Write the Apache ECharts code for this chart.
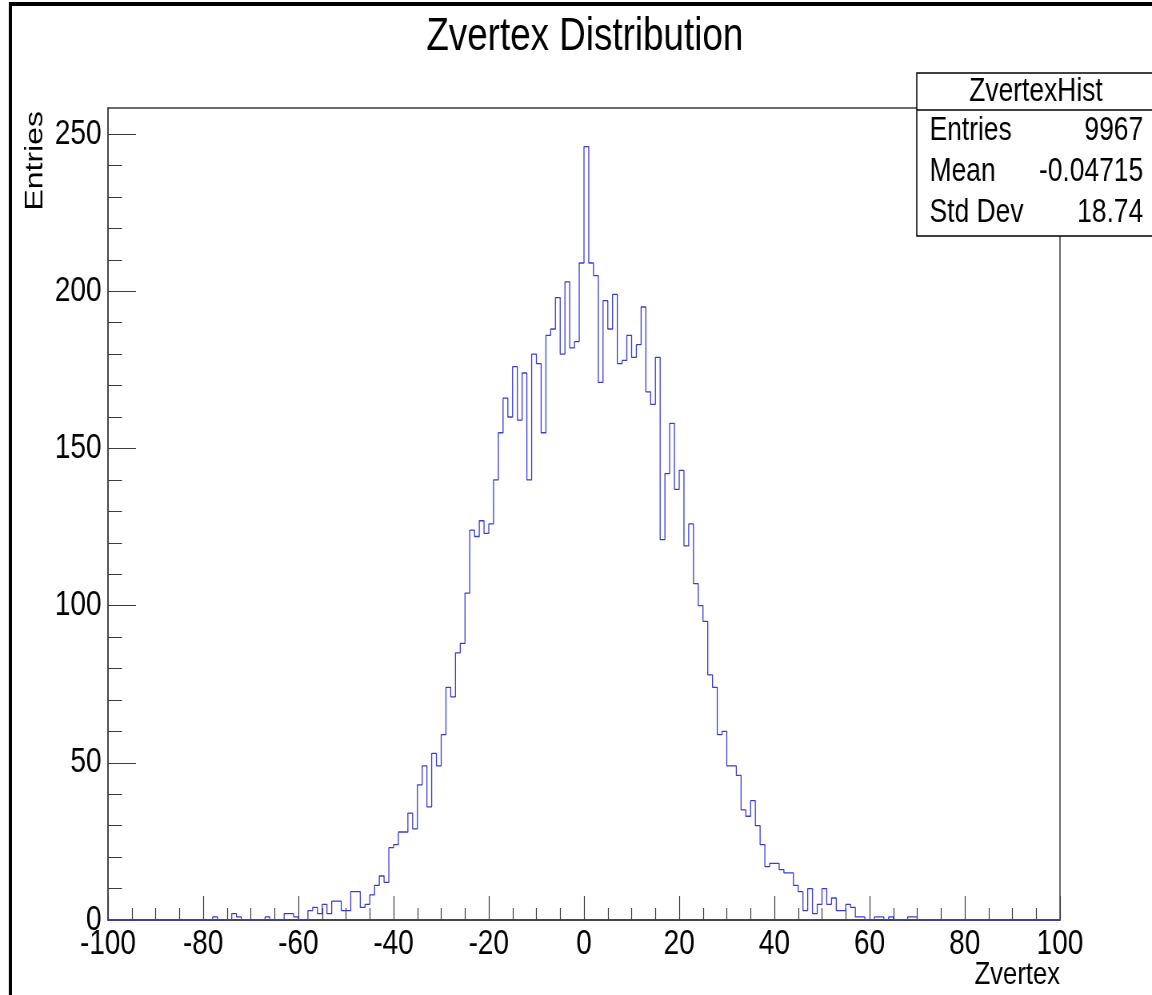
<!DOCTYPE html>
<html>
<head>
<meta charset="utf-8">
<title>Zvertex Distribution</title>
<script src="https://cdn.jsdelivr.net/npm/echarts@6/dist/echarts.min.js"></script>
<style>
  html, body { margin: 0; padding: 0; background: #fff; overflow: hidden; width: 1152px; height: 995px; }
  /* The canvas is laid out wider and squeezed horizontally to give the
     condensed Helvetica look of the text and the thin vertical strokes. */
  #chart { width: 1440px; height: 995px; transform: scaleX(0.8); transform-origin: 0 0; }
</style>
</head>
<body>
<div id="chart"></div>
<script>
// Histogram binning: 200 bins of width 1 from -100 to 100
const BIN_LOW = -100;
const BIN_WIDTH = 1;

// Bin contents, from the bin at -100 up to the bin at 99
const COUNTS = [
  0, 0, 0, 0, 0, 0, 0, 0, 0, 0,          // -100 .. -91
  0, 0, 0, 0, 0, 0, 0, 0, 0, 0,          // -90 .. -81
  0, 0, 1, 0, 0, 0, 2, 1, 0, 0,          // -80 .. -71
  0, 0, 0, 1, 0, 0, 0, 2, 2, 1,          // -70 .. -61
  0, 0, 3, 4, 2, 5, 2, 6, 6, 3,          // -60 .. -51
  3, 9, 9, 4, 5, 8, 11, 14, 12, 23,      // -50 .. -41
  24, 28, 28, 34, 29, 43, 49, 36, 53, 49, // -40 .. -31
  59, 74, 71, 85, 88, 104, 124, 122, 127, 123, // -30 .. -21
  126, 140, 155, 166, 160, 176, 159, 174, 140, 180, // -20 .. -11
  177, 155, 186, 188, 198, 180, 203, 182, 184, 209, // -10 .. -1
  246, 209, 205, 171, 197, 188, 199, 177, 178, 186, // 0 .. 9
  179, 183, 195, 168, 164, 179, 121, 142, 158, 137, // 10 .. 19
  143, 119, 126, 107, 100, 95, 78, 74, 59, 60,      // 20 .. 29
  49, 49, 46, 35, 33, 38, 30, 24, 17, 18,           // 30 .. 39
  18, 16, 15, 15, 11, 9, 3, 10, 2, 5,               // 40 .. 49
  10, 5, 7, 3, 3, 5, 4, 1, 1, 0,                    // 50 .. 59
  0, 1, 1, 0, 1, 0, 0, 0, 1, 1,                     // 60 .. 69
  0, 0, 0, 0, 0, 0, 0, 0, 0, 0,                     // 70 .. 79
  0, 0, 0, 0, 0, 0, 0, 0, 0, 0,                     // 80 .. 89
  0, 0, 0, 0, 0, 0, 0, 0, 0, 0                      // 90 .. 99
];

// Axis ranges and tick values
const X_MIN = -100, X_MAX = 100, X_STEP = 20;
const Y_MIN = 0;
const Y_MAX = 258.3;
const Y_MAJOR = [0, 50, 100, 150, 200, 250];
const Y_MINOR = [10, 20, 30, 40, 60, 70, 80, 90, 110, 120, 130, 140,
                 160, 170, 180, 190, 210, 220, 230, 240];

// Text
const TITLE = 'Zvertex Distribution';
const X_TITLE = 'Zvertex';
const Y_TITLE = 'Entries';
const STATS_NAME = 'ZvertexHist';
const STAT_LABELS = ['Entries', 'Mean', 'Std Dev'];
const STAT_VALUES = ['9967', '-0.04715', '18.74'];

const FONT = "'Liberation Sans', Arial, Helvetica, sans-serif";
const FRAME = '#3c3c3c';
const LINE = '#3c3cd2';

// Step outline: one point per lower bin edge, plus the upper edge of the last bin
const outline = COUNTS.map((c, i) => [BIN_LOW + i * BIN_WIDTH, c]);
outline.push([BIN_LOW + COUNTS.length * BIN_WIDTH, COUNTS[COUNTS.length - 1]]);

// Layout in the unsqueezed (1440 wide) canvas space
const GRID = { left: 135, top: 108, width: 1190, height: 812 };

const chart = echarts.init(document.getElementById('chart'), null, { renderer: 'canvas' });

// Stats box rows
const statTexts = [];
STAT_LABELS.forEach((lab, i) => {
  const cy = 131 + i * 41;
  statTexts.push({
    type: 'text', x: 1162, y: cy, silent: true,
    style: { text: lab, fontSize: 33, fontFamily: FONT, fill: '#000', align: 'left', verticalAlign: 'middle' }
  });
  statTexts.push({
    type: 'text', x: 1429, y: cy, silent: true,
    style: { text: STAT_VALUES[i], fontSize: 33, fontFamily: FONT, fill: '#000', align: 'right', verticalAlign: 'middle' }
  });
});

chart.setOption({
  animation: false,
  backgroundColor: '#fff',
  grid: Object.assign({ show: true, borderColor: FRAME, borderWidth: 1.5, backgroundColor: 'transparent', containLabel: false }, GRID),
  xAxis: {
    type: 'value', min: X_MIN, max: X_MAX, interval: X_STEP,
    axisLine: { show: true, onZero: false, lineStyle: { color: FRAME, width: 1.5 } },
    axisTick: { show: true, inside: true, length: 24, lineStyle: { color: FRAME, width: 1.2 } },
    minorTick: { show: true, splitNumber: 4, length: 12, lineStyle: { color: FRAME, width: 1.2 } },
    axisLabel: { show: true, margin: 7, fontSize: 35, fontFamily: FONT, color: '#000' },
    splitLine: { show: false }, minorSplitLine: { show: false }
  },
  yAxis: [
    {
      type: 'value', min: Y_MIN, max: Y_MAX, interval: 50, position: 'left',
      axisLine: { show: true, onZero: false, lineStyle: { color: FRAME, width: 1.5 } },
      axisTick: { show: true, inside: true, length: 35, customValues: Y_MAJOR, lineStyle: { color: FRAME, width: 1 } },
      axisLabel: { show: true, margin: 8, fontSize: 35, fontFamily: FONT, color: '#000', customValues: Y_MAJOR },
      splitLine: { show: false }
    },
    {
      type: 'value', min: Y_MIN, max: Y_MAX, position: 'left',
      axisLine: { show: false, onZero: false },
      axisTick: { show: true, inside: true, length: 17.5, customValues: Y_MINOR, lineStyle: { color: FRAME, width: 1 } },
      axisLabel: { show: false },
      splitLine: { show: false }
    }
  ],
  series: [{
    type: 'line',
    xAxisIndex: 0, yAxisIndex: 0,
    step: 'end',
    data: outline,
    showSymbol: false, symbol: 'none',
    lineStyle: { color: LINE, width: 1.3 },
    silent: true
  }],
  graphic: [
    // outer canvas frame
    { type: 'rect', shape: { x: 13, y: 4, width: 1600, height: 1100 }, silent: true,
      style: { fill: 'none', stroke: '#000', lineWidth: 4 } },
    { type: 'text', x: 731, y: 37, silent: true,
      style: { text: TITLE, fontSize: 46, fontFamily: FONT, fill: '#000', align: 'center', verticalAlign: 'middle' } },
    { type: 'text', x: 44, y: 111, rotation: Math.PI / 2, silent: true,
      style: { text: Y_TITLE, fontSize: 32, fontFamily: FONT, fill: '#000', align: 'right', verticalAlign: 'middle' } },
    { type: 'text', x: 1325, y: 975, silent: true,
      style: { text: X_TITLE, fontSize: 32, fontFamily: FONT, fill: '#000', align: 'right', verticalAlign: 'middle' } },
    // stats box
    { type: 'rect', shape: { x: 1146, y: 73, width: 400, height: 163 }, silent: true,
      style: { fill: '#fff', stroke: '#000', lineWidth: 1.5 } },
    { type: 'line', shape: { x1: 1146, y1: 110, x2: 1546, y2: 110 }, silent: true,
      style: { stroke: '#000', lineWidth: 1.5 } },
    { type: 'text', x: 1295, y: 92, silent: true,
      style: { text: STATS_NAME, fontSize: 33, fontFamily: FONT, fill: '#000', align: 'center', verticalAlign: 'middle' } }
  ].concat(statTexts)
});
</script>
</body>
</html>
